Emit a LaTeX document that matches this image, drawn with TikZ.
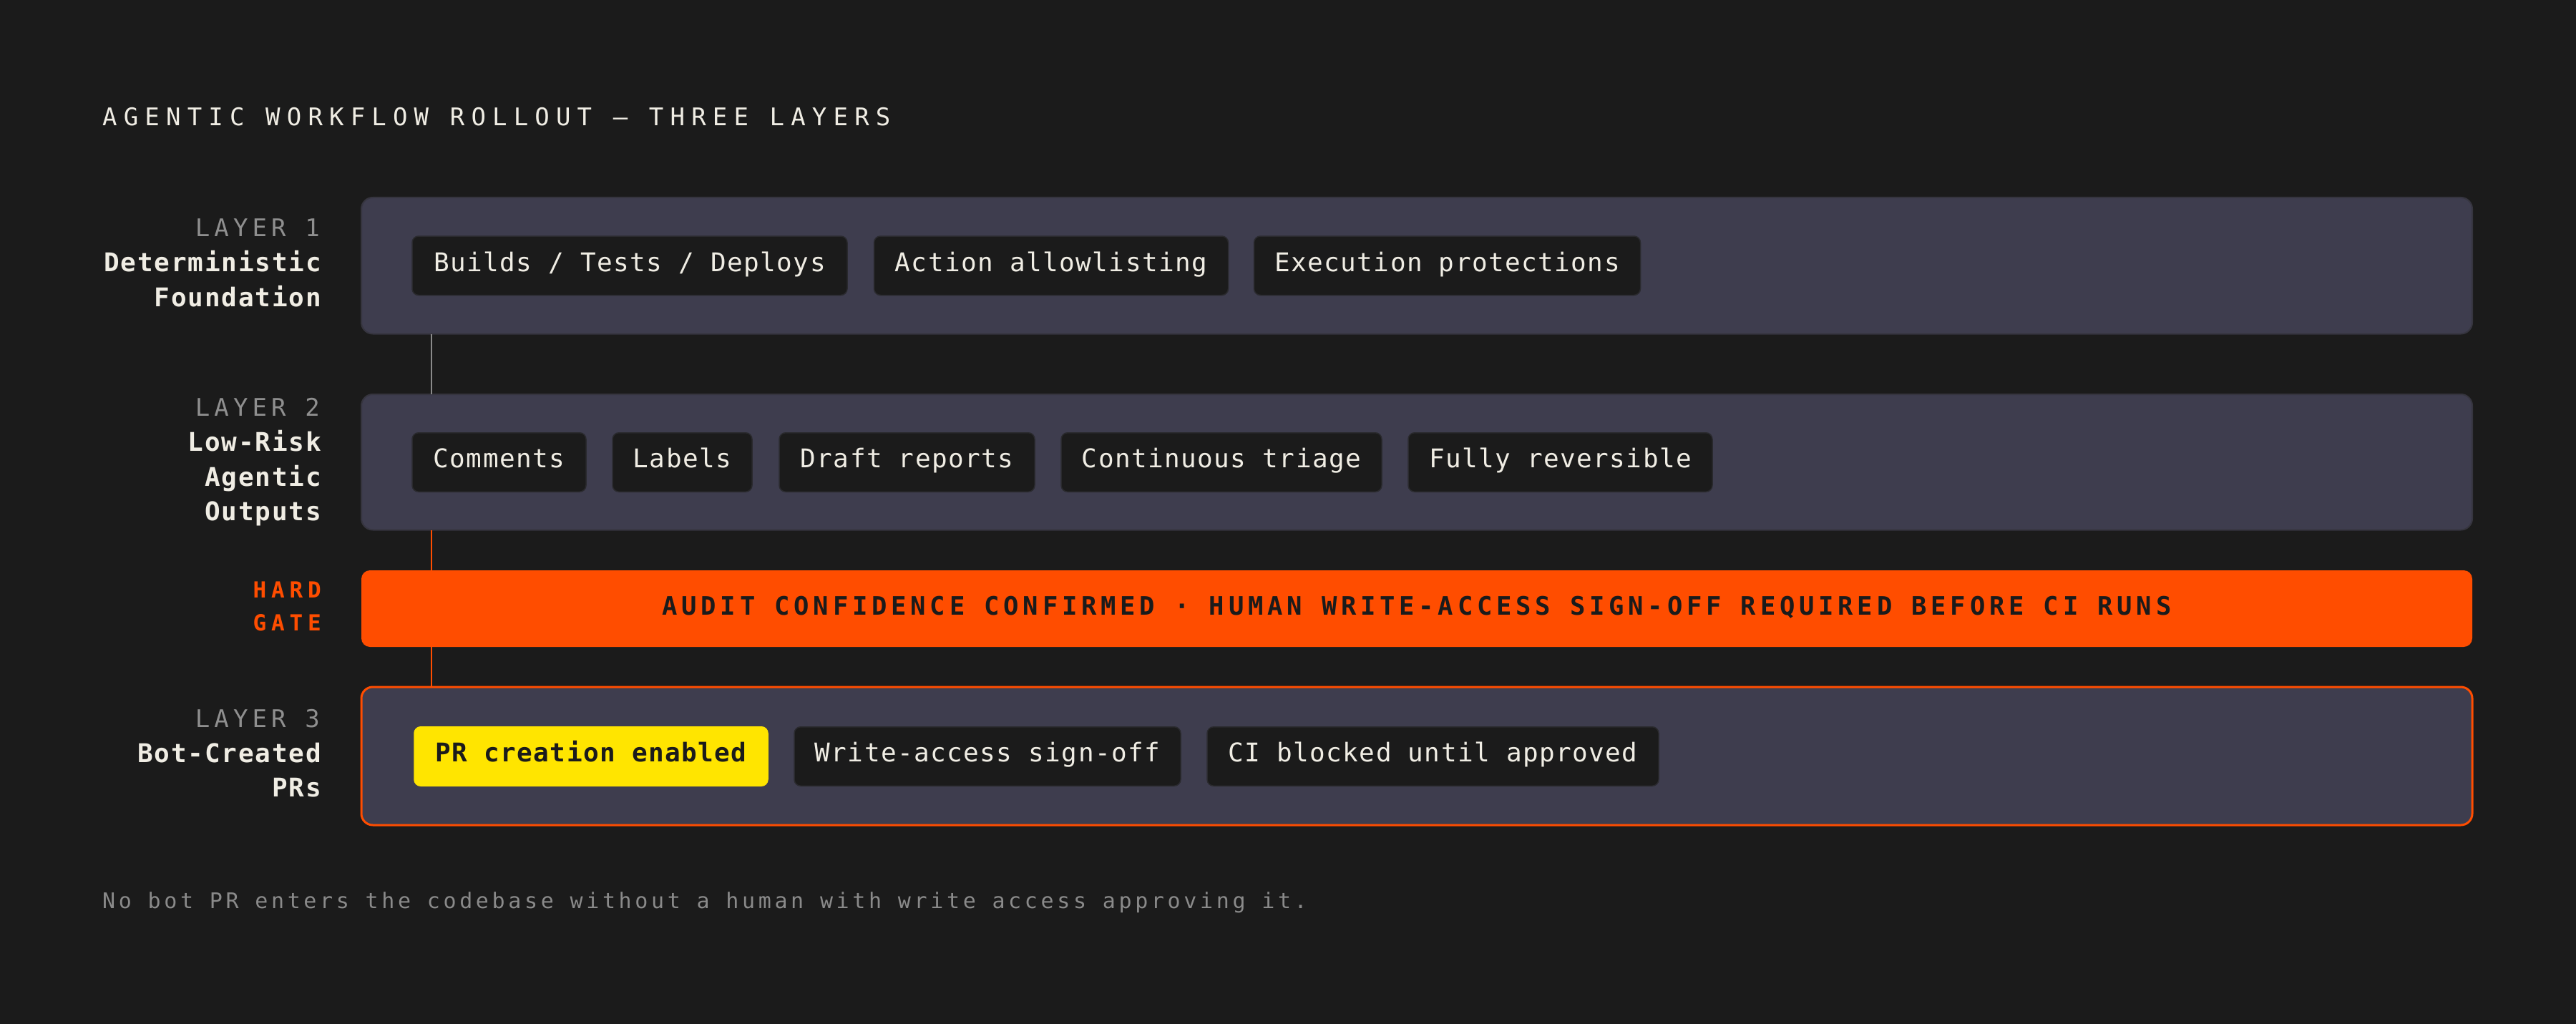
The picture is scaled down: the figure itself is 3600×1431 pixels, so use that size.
\documentclass[tikz,border=0pt]{standalone}
\usepackage{fontspec}
\setmainfont{DejaVu Sans Mono}
\newfontfamily\ftitle[LetterSpace=27]{DejaVu Sans Mono}
\newfontfamily\flayer[LetterSpace=18]{DejaVu Sans Mono}
\newfontfamily\fname[LetterSpace=5]{DejaVu Sans Mono}
\newfontfamily\fhard[LetterSpace=22]{DejaVu Sans Mono}
\newfontfamily\fgate[LetterSpace=16.3]{DejaVu Sans Mono}
\newfontfamily\fchip[LetterSpace=4]{DejaVu Sans Mono}
\newfontfamily\ffoot[LetterSpace=15.5]{DejaVu Sans Mono}
\definecolor{bgc}{HTML}{1B1B1B}
\definecolor{layerc}{HTML}{3E3D4E}
\definecolor{layeredge}{HTML}{36353F}
\definecolor{chipc}{HTML}{1B1B1B}
\definecolor{chipedge}{HTML}{2A2A2E}
\definecolor{textc}{HTML}{F0EDE4}
\definecolor{orangec}{HTML}{FF4D00}
\definecolor{yellowc}{HTML}{FFE500}
\definecolor{grayc}{HTML}{8F8F8F}
\definecolor{footc}{HTML}{8A8A8A}
\definecolor{linec}{HTML}{8A8A8A}
\begin{document}
\begin{tikzpicture}[x=1pt,y=-1pt,
  layerbox/.style={fill=layerc, draw=layeredge, line width=2pt, rounded corners=16pt, inner sep=0pt, outer sep=0pt, minimum width=2950pt},
  gatebox/.style={fill=orangec, rounded corners=12pt, inner sep=0pt, outer sep=0pt, minimum width=2950pt, minimum height=107pt, text=bgc, font=\fgate\bfseries\fontsize{35.5}{40}\selectfont, text height=26pt, text depth=9pt},
  chipbox/.style={fill=chipc, draw=chipedge, line width=1.5pt, rounded corners=9pt, inner sep=0pt, outer sep=0pt, minimum height=82.5pt, text=textc, font=\fchip\fontsize{36}{40}\selectfont, text height=26pt, text depth=10.5pt},
  hotchip/.style={chipbox, fill=yellowc, draw=yellowc, text=bgc, font=\fchip\bfseries\fontsize{36}{40}\selectfont},
  laylab/.style={anchor=base east, inner sep=0pt, text=grayc, font=\flayer\fontsize{34}{40}\selectfont},
  namelab/.style={anchor=base east, inner sep=0pt, text=textc, font=\fname\bfseries\fontsize{36}{40}\selectfont},
  hardlab/.style={anchor=base east, inner sep=0pt, text=orangec, font=\fhard\bfseries\fontsize{31}{36}\selectfont},
  conn/.style={draw=linec, line width=2pt},
  connhot/.style={draw=orangec, line width=2.5pt}]
\fill[bgc] (0,0) rectangle (3600,1431);
\useasboundingbox (0,0) rectangle (3600,1431);

% title
\node[anchor=base west, inner sep=0pt, text=textc, font=\ftitle\fontsize{34}{40}\selectfont] (title) at (143,176) {AGENTIC WORKFLOW ROLLOUT — THREE LAYERS};

% layer boxes
\node[layerbox, minimum height=190.5pt] (L1) at (1980,371.25) {};
\node[layerbox, minimum height=189.5pt] (L2) at (1980,645.75) {};
\node[gatebox] (gate) at (1980,850.5) {AUDIT CONFIDENCE CONFIRMED · HUMAN WRITE-ACCESS SIGN-OFF REQUIRED BEFORE CI RUNS};
\node[layerbox, draw=orangec, line width=3pt, minimum height=193pt] (L3) at (1980,1056.5) {};

% spine connectors
\coordinate (spine) at (603,0);
\draw[conn] (spine |- L1.south) -- (spine |- L2.north);
\draw[connhot] (spine |- L2.south) -- (spine |- gate.north);
\draw[connhot] (spine |- gate.south) -- (spine |- L3.north);

% left labels
\node[laylab] (l1a) at (447,330.7) {LAYER 1};
\node[namelab] (l1b) at (449,379) {Deterministic};
\node[namelab] (l1c) at (449,428) {Foundation};

\node[laylab] (l2a) at (447,581.7) {LAYER 2};
\node[namelab] (l2b) at (449,630.7) {Low-Risk};
\node[namelab] (l2c) at (449,679) {Agentic};
\node[namelab] (l2d) at (449,727) {Outputs};

\node[hardlab] (g1) at (449,835) {HARD};
\node[hardlab] (g2) at (449,881) {GATE};

\node[laylab] (l3a) at (447,1016.7) {LAYER 3};
\node[namelab] (l3b) at (449,1065) {Bot-Created};
\node[namelab] (l3c) at (449,1113) {PRs};

% layer 1 chips
\node[chipbox, minimum width=608pt] (c11) at (880,371.25) {Builds / Tests / Deploys};
\node[chipbox, minimum width=495pt] (c12) at (1469,371.25) {Action allowlisting};
\node[chipbox, minimum width=540pt] (c13) at (2022.5,371.25) {Execution protections};

% layer 2 chips
\node[chipbox, minimum width=243pt] (c21) at (697.5,646) {Comments};
\node[chipbox, minimum width=195pt] (c22) at (953.5,646) {Labels};
\node[chipbox, minimum width=357pt] (c23) at (1267.5,646) {Draft reports};
\node[chipbox, minimum width=448pt] (c24) at (1707,646) {Continuous triage};
\node[chipbox, minimum width=425pt] (c25) at (2180.5,646) {Fully reversible};

% layer 3 chips
\node[hotchip, minimum width=494pt] (c31) at (826,1057) {PR creation enabled};
\node[chipbox, minimum width=540pt] (c32) at (1380,1057) {Write-access sign-off};
\node[chipbox, minimum width=631pt] (c33) at (2002.5,1057) {CI blocked until approved};

% footer
\node[anchor=base west, inner sep=0pt, text=footc, font=\ffoot\fontsize{30}{36}\selectfont] (foot) at (143,1269) {No bot PR enters the codebase without a human with write access approving it.};
\end{tikzpicture}
\end{document}
